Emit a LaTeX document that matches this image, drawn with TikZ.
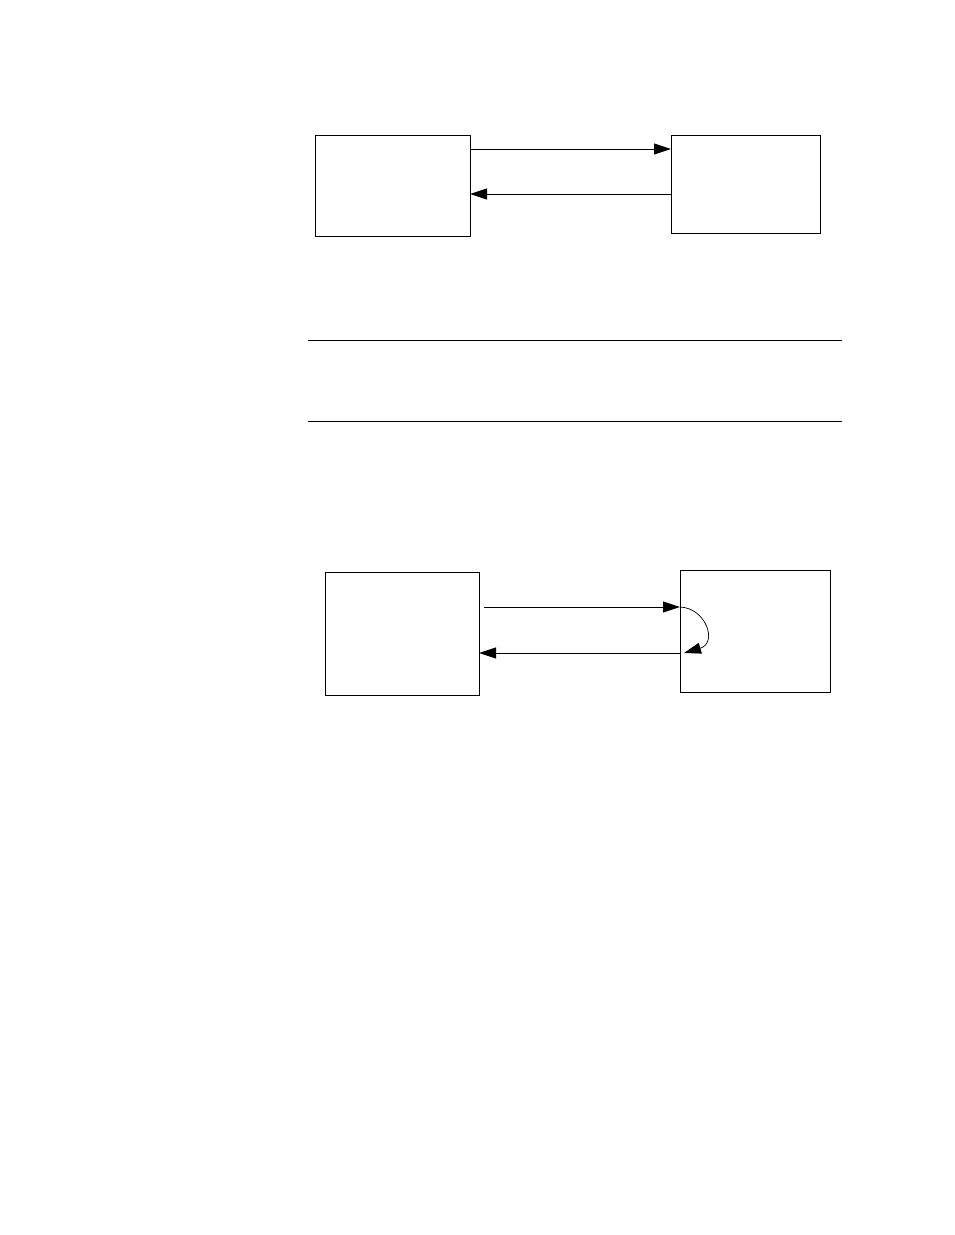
\documentclass[tikz,border=0pt]{standalone}
\usetikzlibrary{arrows.meta,calc}
\begin{document}
\begin{tikzpicture}[x=1pt,y=-1pt,
  box/.style={draw,line width=1pt,inner sep=0pt,outer sep=0pt},
  arr/.style={line width=1pt,-{Triangle[length=17pt,width=11pt]}},
  curvearr/.style={line width=0.7pt,-{Triangle[length=17pt,width=11pt]}},
  rule/.style={line width=0.9pt}]
\useasboundingbox[fill=white] (0,0) rectangle (954,1235);
% top diagram
\node[box,minimum width=155pt,minimum height=101pt] (a) at (392.5,185.5) {};
\node[box,minimum width=149pt,minimum height=98pt] (b) at (745.5,184) {};
\coordinate (a1) at ($(a.north east)+(0,14)$);
\coordinate (b1) at ($(b.north west)+(0,14)$);
\coordinate (a2) at ($(a.north east)+(0,59)$);
\coordinate (b2) at ($(b.north west)+(0,59)$);
\draw[arr] (a1) -- (b1);
\draw[arr] (b2) -- (a2);
% rules
\coordinate (r1a) at (308,340);
\coordinate (r1b) at (842,340);
\coordinate (r2a) at (308,421);
\coordinate (r2b) at (842,421);
\draw[rule] (r1a) -- (r1b);
\draw[rule] (r2a) -- (r2b);
% bottom diagram
\node[box,minimum width=154pt,minimum height=123pt] (c) at (402,633.5) {};
\node[box,minimum width=150pt,minimum height=122pt] (d) at (755,631) {};
\coordinate (c1) at ($(c.north east)+(5,35)$);
\coordinate (d1) at ($(d.north west)+(0,37)$);
\coordinate (c2) at ($(c.north east)+(0,81)$);
\coordinate (d2) at ($(d.north west)+(0,83)$);
\coordinate (d3) at ($(d.north west)+(4,83)$);
\draw[arr] (c1) -- (d1);
\draw[arr] (d2) -- (c2);
\draw[curvearr] (d1) .. controls ($(d1)+(26,1)$) and ($(d1)+(38,36)$) .. (d3);
\end{tikzpicture}
\end{document}
